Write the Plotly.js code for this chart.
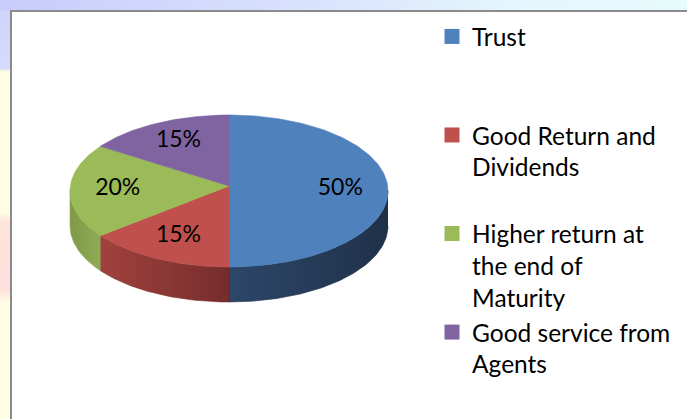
<!DOCTYPE html>
<html>
<head>
<meta charset="utf-8">
<script src="https://cdn.plot.ly/plotly-3.0.1.min.js"></script>
<style>
  html, body { margin: 0; padding: 0; }
  body {
    width: 687px; height: 419px; overflow: hidden;
    background:
      linear-gradient(to right, #c8ccfa, #d9e2fd 45%, #e4f6fd 75%, #e6fbfc) top left / 100% 11px no-repeat,
      linear-gradient(to bottom, #d0d3fb 0px, #d6dafb 68px, #fffde4 72px, #fffde4 212px, #fde4dc 222px, #fde0dc 290px, #fffde4 302px, #fffde4 419px);
  }
  #chart { width: 687px; height: 419px; }
</style>
</head>
<body>
<div id="chart"></div>
<script>
// ---- data ----
const categories = ['Trust', 'Good Return and Dividends', 'Higher return at the end of Maturity', 'Good service from Agents'];
const legendLabels = ['Trust<br> <br> ', 'Good Return and<br>Dividends<br> ', 'Higher return at<br>the end of<br>Maturity', 'Good service from<br>Agents'];
const values = [50, 15, 20, 15];
const topColors = ['#4f81bd', '#c0504d', '#9bbb59', '#8064a2'];
const sideLeft = ['#2d4769', '#a2413e', '#7f9a48', '#6a5387'];
const sideRight = ['#1f3149', '#742d2c', '#8fab54', '#5a4673'];

// ---- geometry (pixels) ----
const cx = 229, cy = 191, rx = 159, ry = 76, depth = 35;
const apexX = 229, apexY = 186;

function pt(theta, dy) {
  const t = theta * Math.PI / 180;
  return [cx + rx * Math.sin(t), cy - ry * Math.cos(t) + dy];
}
function arc(a1, a2, dy) {
  const xs = [], ys = [];
  const n = Math.max(2, Math.ceil(Math.abs(a2 - a1)));
  for (let i = 0; i <= n; i++) {
    const p = pt(a1 + (a2 - a1) * i / n, dy);
    xs.push(p[0]); ys.push(p[1]);
  }
  return [xs, ys];
}

const total = values.reduce((a, b) => a + b, 0);
const starts = [], ends = [];
let acc = 0;
values.forEach(v => { starts.push(acc / total * 360); acc += v; ends.push(acc / total * 360); });

const traces = [];
// side faces
values.forEach((v, i) => {
  const s = Math.max(starts[i], 90), e = Math.min(ends[i], 270);
  if (s < e) {
    const top = arc(s, e, 0), bot = arc(e, s, depth);
    traces.push({
      type: 'scatter', mode: 'lines',
      x: top[0].concat(bot[0]), y: top[1].concat(bot[1]),
      fill: 'toself',
      fillgradient: { type: 'horizontal', colorscale: [[0, sideLeft[i]], [1, sideRight[i]]] },
      line: { width: 0.6, color: sideRight[i] },
      hoverinfo: 'skip', showlegend: false
    });
  }
});
// top faces
values.forEach((v, i) => {
  const a = arc(starts[i], ends[i], 0);
  traces.push({
    type: 'scatter', mode: 'lines',
    x: [apexX].concat(a[0], [apexX]), y: [apexY].concat(a[1], [apexY]),
    fill: 'toself', fillcolor: topColors[i],
    line: { width: 0.6, color: topColors[i] },
    name: categories[i], hoverinfo: 'name', showlegend: false
  });
});
// percentage labels
const lx = [], ly = [], lt = [];
values.forEach((v, i) => {
  const mid = (starts[i] + ends[i]) / 2;
  const t = mid * Math.PI / 180;
  lx.push(cx + 0.7 * rx * Math.sin(t));
  ly.push(cy - 2 - 0.7 * ry * Math.cos(t));
  lt.push(Math.round(v / total * 100) + '%');
});
traces.push({
  type: 'scatter', mode: 'text', x: lx, y: ly, text: lt,
  textfont: { family: 'Lato, "Open Sans", sans-serif', size: 23, color: '#000000' },
  hoverinfo: 'skip', showlegend: false
});
// legend entries
values.forEach((v, i) => {
  traces.push({
    type: 'scatter', mode: 'markers', x: [null], y: [null],
    name: legendLabels[i], legendgroup: 'g' + i,
    marker: { symbol: 'square', size: 15, color: topColors[i] },
    showlegend: true, hoverinfo: 'skip'
  });
});

const layout = {
  width: 687, height: 419,
  margin: { l: 0, r: 0, t: 0, b: 0, pad: 0 },
  paper_bgcolor: 'rgba(0,0,0,0)', plot_bgcolor: 'rgba(0,0,0,0)',
  xaxis: { range: [0, 687], visible: false, fixedrange: true },
  yaxis: { range: [419, 0], visible: false, fixedrange: true },
  shapes: [{
    type: 'rect', xref: 'x', yref: 'y', x0: 11, y0: 11, x1: 700, y1: 440,
    fillcolor: '#ffffff', line: { color: '#8a8a8a', width: 2 }, layer: 'below'
  }],
  showlegend: true,
  legend: {
    x: 432 / 687, xanchor: 'left', y: 1 - 14 / 419, yanchor: 'top',
    bgcolor: 'rgba(0,0,0,0)', borderwidth: 0,
    valign: 'top', traceorder: 'grouped', tracegroupgap: 0,
    font: { family: 'Lato, "Open Sans", sans-serif', size: 24.5, color: '#000000' },
    itemclick: false, itemdoubleclick: false
  },
  hovermode: false
};

Plotly.newPlot('chart', traces, layout, { displayModeBar: false, staticPlot: true });
</script>
</body>
</html>
